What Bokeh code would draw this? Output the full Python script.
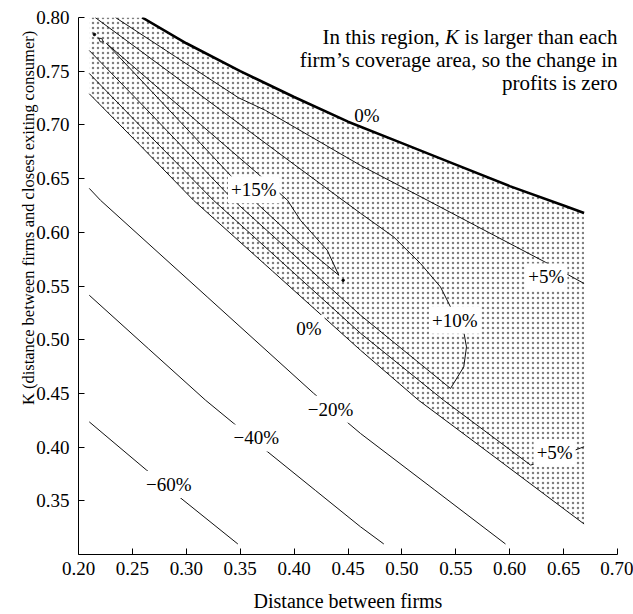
from bokeh.plotting import figure
from bokeh.models import Range1d, FixedTicker, Label, NumeralTickFormatter
from bokeh.embed import file_html
from bokeh.resources import INLINE

# ---------------- data ----------------
x_ticks = [0.20, 0.25, 0.30, 0.35, 0.40, 0.45, 0.50, 0.55, 0.60, 0.65, 0.70]
y_ticks = [0.35, 0.40, 0.45, 0.50, 0.55, 0.60, 0.65, 0.70, 0.75, 0.80]

# boundary where K exceeds each firm's coverage area (thick 0% line)
boundary_x = [0.259, 0.300, 0.350, 0.400, 0.450, 0.500, 0.550, 0.600, 0.650, 0.669]
boundary_y = [0.800, 0.776, 0.750, 0.726, 0.703, 0.683, 0.663, 0.643, 0.625, 0.618]

# 0% contour (lower edge of the positive region)
zero_x = [0.210, 0.2575, 0.3067, 0.380, 0.4616, 0.5154, 0.590, 0.669]
zero_y = [0.729, 0.6806, 0.6298, 0.5638, 0.4902, 0.4437, 0.3878, 0.3284]

# +5% contour, lower branch
plus5_low_x = [0.210, 0.265, 0.3252, 0.400, 0.4616, 0.5386, 0.6193, 0.6304, 0.650, 0.6657, 0.669]
plus5_low_y = [0.7479, 0.6911, 0.6298, 0.562, 0.5060, 0.4437, 0.3833, 0.3860, 0.3932, 0.3991, 0.4003]

# +5% contour, upper branch
plus5_up_x = [0.2343, 0.290, 0.3484, 0.3735, 0.4616, 0.5237, 0.580, 0.6332, 0.669]
plus5_up_y = [0.800, 0.7635, 0.7253, 0.7135, 0.6623, 0.6298, 0.6001, 0.5721, 0.5523]

# +10% contour (U-shaped)
plus10_x = [0.2155, 0.270, 0.3324, 0.400, 0.4616, 0.4925, 0.5173, 0.5358, 0.5451, 0.5574,
            0.5599, 0.5574, 0.5451, 0.500, 0.4616, 0.400, 0.3438, 0.3132, 0.260, 0.210]
plus10_y = [0.800, 0.7597, 0.7135, 0.6632, 0.6177, 0.5956, 0.5709, 0.5491, 0.5305, 0.5073,
            0.4933, 0.4747, 0.4546, 0.4914, 0.5228, 0.5788, 0.6298, 0.6619, 0.7177, 0.7693]

# +15% contour (closed tongue)
plus15_x = [0.2260, 0.270, 0.3132, 0.3410, 0.3623, 0.4059, 0.430, 0.4415,
            0.4307, 0.4059, 0.3939, 0.3660, 0.3132, 0.270, 0.2260]
plus15_y = [0.7758, 0.7289, 0.6828, 0.6530, 0.6298, 0.5895, 0.5695, 0.5600,
            0.5833, 0.6112, 0.6298, 0.6549, 0.7005, 0.7378, 0.7758]

# tiny closed contour and isolated points near the ridge
tiny_x = [0.2186, 0.2215, 0.2232, 0.2203, 0.2186]
tiny_y = [0.7807, 0.7805, 0.7772, 0.7773, 0.7807]
spot_x = [0.2148, 0.4455]
spot_y = [0.7842, 0.5553]

# negative contours
minus20_x = [0.210, 0.2204, 0.320, 0.4180, 0.4477, 0.4616, 0.530, 0.5961]
minus20_y = [0.6409, 0.6298, 0.5393, 0.4502, 0.4245, 0.4127, 0.3604, 0.3098]
minus40_x = [0.210, 0.265, 0.3178, 0.3441, 0.3735, 0.420, 0.4616, 0.4832]
minus40_y = [0.5414, 0.4915, 0.4437, 0.4220, 0.3972, 0.3595, 0.3258, 0.3098]
minus60_x = [0.210, 0.2631, 0.2940, 0.3478]
minus60_y = [0.4235, 0.3786, 0.3532, 0.3098]

# contour labels
clabel_text = ["+15%", "0%", "+10%", "+5%", "+5%", "\u221220%", "\u221240%", "\u221260%"]
clabel_x = [0.3626, 0.4137, 0.5490, 0.6340, 0.6417, 0.4338, 0.3650, 0.2838]
clabel_y = [0.6397, 0.5104, 0.5181, 0.5584, 0.3946, 0.4352, 0.4085, 0.3651]
boundary_label = "0%"
boundary_label_x = 0.4676
boundary_label_y = 0.7088

x_title = "Distance between firms"
y_title = "K (distance between firms and closest exiting consumer)"

FONT = "Liberation Serif"

p = figure(width=633, height=614, output_backend="svg", toolbar_location=None,
           x_range=Range1d(0.2, 0.7), y_range=Range1d(0.3, 0.8),
           min_border_left=78, min_border_right=16, min_border_top=17, min_border_bottom=59)
p.outline_line_color = None
p.grid.visible = False
p.background_fill_color = "white"
p.border_fill_color = "white"

p.xaxis.ticker = FixedTicker(ticks=x_ticks)
p.yaxis.ticker = FixedTicker(ticks=y_ticks)
for ax in (p.xaxis, p.yaxis):
    ax.formatter = NumeralTickFormatter(format="0.00")
    ax.major_tick_in = 6
    ax.major_tick_out = 0
    ax.minor_tick_line_color = None
    ax.axis_line_color = "black"
    ax.major_tick_line_color = "black"
    ax.major_label_text_font = FONT
    ax.major_label_text_font_size = "19px"
    ax.major_label_text_color = "black"
    ax.axis_label_text_font = FONT
    ax.axis_label_text_font_style = "normal"
    ax.axis_label_text_color = "black"
p.xaxis.major_label_standoff = 7
p.yaxis.major_label_standoff = 9

p.xaxis.axis_label = x_title
p.xaxis.axis_label_text_font_size = "20px"
p.xaxis.axis_label_standoff = 12

# the reference title sits above the axis centre: lead it with non-breaking spaces
p.yaxis.axis_label = "\u00a0" * 33 + y_title
p.yaxis.axis_label_text_font_size = "16.5px"
p.yaxis.axis_label_standoff = -5

# stippled positive region
poly_x = [zero_x[0]] + boundary_x + zero_x[::-1]
poly_y = [boundary_y[0]] + boundary_y + zero_y[::-1]
p.patch(poly_x, poly_y, fill_alpha=0, line_alpha=0,
        hatch_pattern="dot", hatch_scale=5, hatch_weight=0.4, hatch_color="#808080")

lc = "#111111"
for xs, ys in [(zero_x, zero_y), (plus5_low_x, plus5_low_y), (plus5_up_x, plus5_up_y),
               (plus10_x, plus10_y), (plus15_x, plus15_y), (tiny_x, tiny_y),
               (minus20_x, minus20_y), (minus40_x, minus40_y), (minus60_x, minus60_y)]:
    p.line(xs, ys, line_color=lc, line_width=1)
p.scatter(spot_x, spot_y, size=2.5, color="black")
p.line(boundary_x, boundary_y, line_color="black", line_width=2.6)

for t, x, y in zip(clabel_text, clabel_x, clabel_y):
    p.add_layout(Label(x=x, y=y, text=t, text_align="center", text_baseline="middle",
                       text_font=FONT, text_font_size="19px", text_color="black",
                       background_fill_color="white", background_fill_alpha=1.0, padding=3))
p.add_layout(Label(x=boundary_label_x, y=boundary_label_y, text=boundary_label,
                   text_align="center", text_baseline="middle",
                   text_font=FONT, text_font_size="19px", text_color="black"))

# annotation (right aligned, K in italics)
ann = dict(text_font=FONT, text_font_size="21px", text_color="black",
           text_baseline="alphabetic", text_align="right")
p.add_layout(Label(x=0.70, y=0.7823, text="is larger than each", **ann))
p.add_layout(Label(x=0.5529, y=0.7823, text="K", text_font_style="italic", **ann))
p.add_layout(Label(x=0.5350, y=0.7823, text="In this region,", **ann))
p.add_layout(Label(x=0.70, y=0.7605, text="firm\u2019s coverage area, so the change in", **ann))
p.add_layout(Label(x=0.70, y=0.7386, text="profits is zero", **ann))

open("out.html", "w").write(file_html(p, INLINE))
